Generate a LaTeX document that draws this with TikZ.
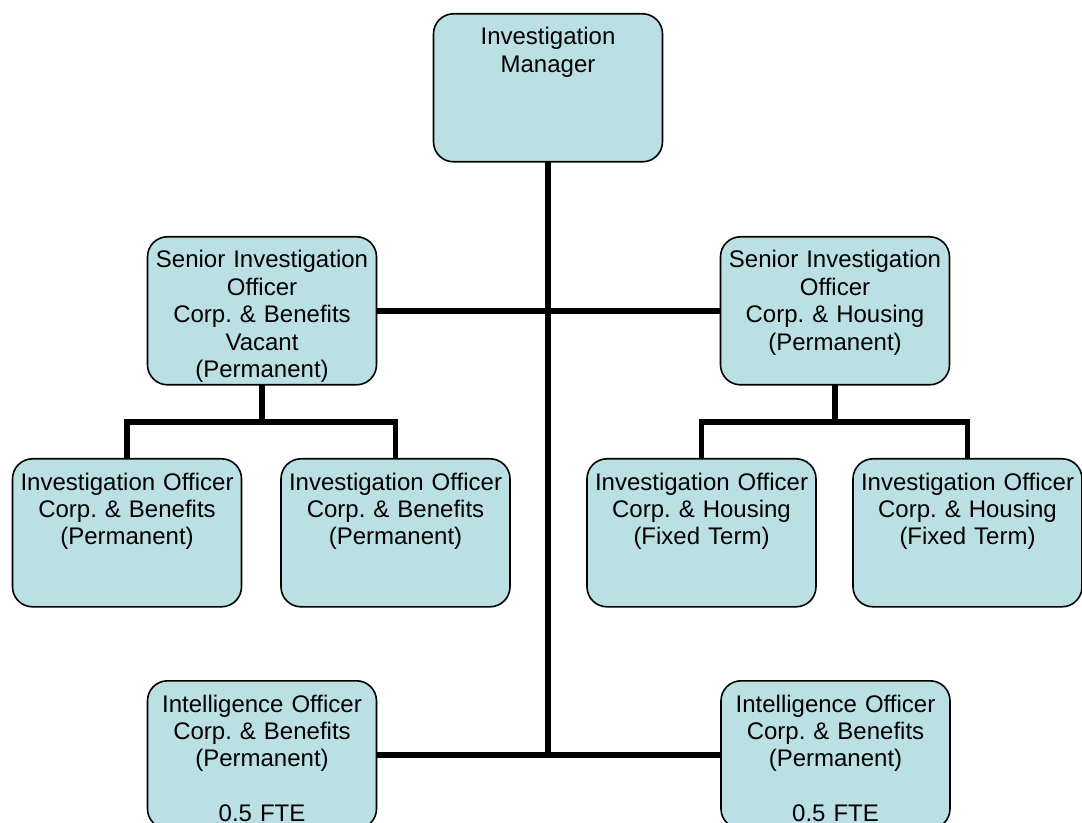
\documentclass[tikz,border=0pt]{standalone}
\usepackage{fontspec}
\setmainfont{Liberation Sans}
\frenchspacing
\usetikzlibrary{backgrounds}
\definecolor{boxfill}{RGB}{187,224,227}
\tikzset{
  post/.style = {draw, line width=1.2pt, fill=boxfill, rounded corners=15pt,
    inner sep=0pt, text width=171.75pt, align=center,
    text height=23.4pt, text depth=87.6pt, anchor=north,
    font=\fontsize{18}{20.6}\selectfont},
  link/.style = {line width=4.3pt, line cap=rect, line join=miter}
}
\begin{document}
\begin{tikzpicture}[x=0.75pt, y=-0.75pt]
        \useasboundingbox (0,0) rectangle (1082,823);

        \node[post] (mgr)  at (548,13)   {Investigation\\Manager};

        \node[post] (sioL) at (262,236)  {Senior Investigation\\Officer\\Corp. \& Benefits\\Vacant\\(Permanent)};
        \node[post] (sioR) at (835,236)  {Senior Investigation\\Officer\\Corp. \& Housing\\(Permanent)};

        \node[post] (ioA)  at (127,458)  {Investigation Officer\\Corp. \& Benefits\\(Permanent)};
        \node[post] (ioB)  at (395.5,458) {Investigation Officer\\Corp. \& Benefits\\(Permanent)};
        \node[post] (ioC)  at (701.5,458) {Investigation Officer\\Corp. \& Housing\\(Fixed Term)};
        \node[post] (ioD)  at (967.5,458) {Investigation Officer\\Corp. \& Housing\\(Fixed Term)};

        \node[post] (intL) at (262,680)  {Intelligence Officer\\Corp. \& Benefits\\(Permanent)\\[20.4pt]0.5 FTE};
        \node[post] (intR) at (835.5,680) {Intelligence Officer\\Corp. \& Benefits\\(Permanent)\\[20.4pt]0.5 FTE};

        \coordinate (busL) at (0,422);
        \coordinate (busR) at (0,422);

        \begin{scope}[on background layer]
          \draw[link] (mgr) -- (mgr |- intL);
          \draw[link] (sioL) -- (sioR);
          \draw[link] (intL) -- (intR);

          \draw[link] (sioL) -- (sioL |- busL);
          \draw[link] (ioA) -- (ioA |- busL) -- (ioB |- busL) -- (ioB);

          \draw[link] (sioR) -- (sioR |- busR);
          \draw[link] (ioC) -- (ioC |- busR) -- (ioD |- busR) -- (ioD);
        \end{scope}
      \end{tikzpicture}
\end{document}
